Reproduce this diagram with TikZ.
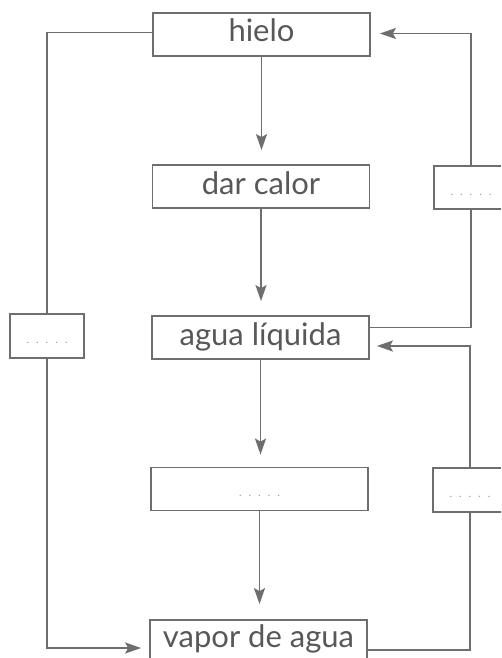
\documentclass[tikz,border=0pt]{standalone}
\usepackage{fontspec}
\setmainfont{Lato}
\usetikzlibrary{arrows.meta,calc}
\definecolor{ln}{HTML}{6E6E6E}
\definecolor{tx}{HTML}{585858}
\definecolor{dt}{HTML}{9A9A9A}
\newcommand\fivedots{.\hspace{7pt}.\hspace{7pt}.\hspace{7pt}.\hspace{7pt}.}
\begin{document}
\begin{tikzpicture}[x=1pt,y=-1pt,
 box/.style={draw=ln,line width=1.8pt,minimum width=217pt,minimum height=43pt,inner sep=0pt,text=tx,font=\fontsize{31}{33}\selectfont,text height=22pt,text depth=7pt},
 sbox/.style={draw=ln,line width=1.8pt,minimum width=74pt,minimum height=44pt,inner sep=0pt,text=dt,font=\fontsize{11}{12}\selectfont,text height=15pt,text depth=0pt},
 conn/.style={draw=ln,line width=1.8pt},
 arr/.style={conn,-{Stealth[length=16pt,width=11pt,inset=3pt]}}]
\useasboundingbox (0,0) rectangle (501,658);
\clip (0,0) rectangle (501,658);
\node[box] (hielo) at (261.5,34.5) {hielo};
\node[box] (darcalor) at (261,186.5) {dar calor};
\node[box] (agua) at (260.5,337.5) {agua líquida};
\node[box,text=dt,font=\fontsize{11}{12}\selectfont,text height=15pt,text depth=0pt] (mid) at (259.5,489) {\fivedots};
\node[box,minimum height=40pt] (vapor) at (258.5,640) {vapor de agua};
\node[sbox] (lbox) at (47,336) {\fivedots};
\node[sbox,minimum height=43pt] (rtbox) at (471,187.5) {\fivedots};
\node[sbox] (rbbox) at (470,490) {\fivedots};
% main chain
\draw[arr,shorten >=14pt] (hielo.south) -- (hielo.south |- darcalor.north);
\draw[arr,shorten >=14pt] (darcalor.south) -- (darcalor.south |- agua.north);
\draw[arr,shorten >=12pt] (agua.south) -- (agua.south |- mid.north);
\draw[arr,shorten >=15pt] (mid.south) -- (mid.south |- vapor.north);
% left loop
\draw[conn] ($(hielo.west)+(0,-2)$) -| (lbox.north);
\draw[arr,shorten >=8pt] (lbox.south) |- ($(vapor.west)+(0,8)$);
% right top loop
\draw[conn] ($(agua.east)+(0,-10)$) -| (rtbox.south);
\draw[arr,shorten >=9pt] (rtbox.north) |- ($(hielo.east)+(0,-1)$);
% right bottom loop
\draw[conn] ($(vapor.east)+(0,10)$) -| (rbbox.south);
\draw[arr,shorten >=7pt] (rbbox.north) |- ($(agua.east)+(0,8.5)$);
\end{tikzpicture}
\end{document}
